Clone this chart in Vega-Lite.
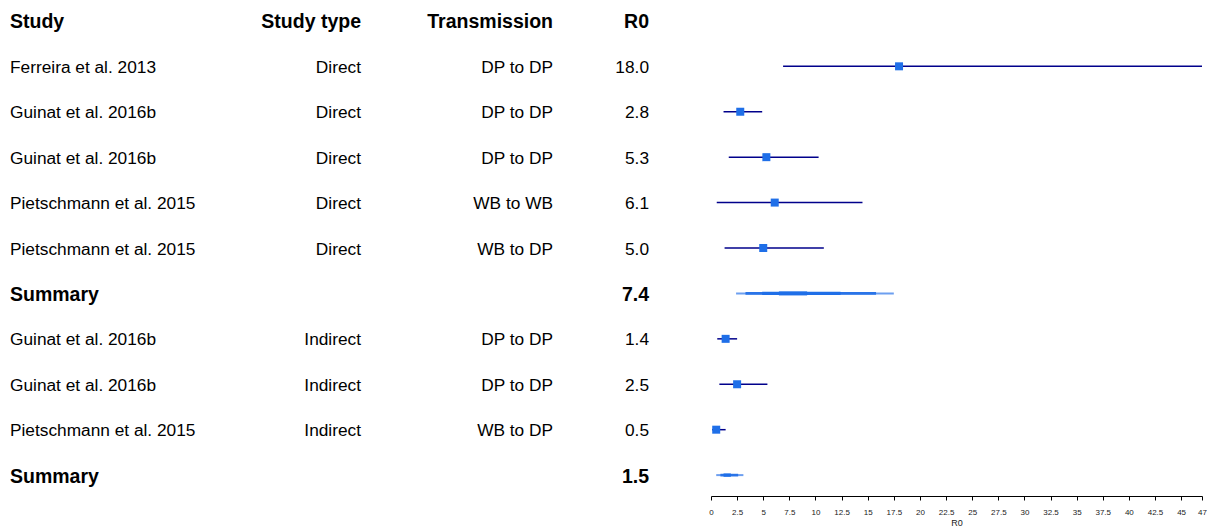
{
  "$schema": "https://vega.github.io/schema/vega-lite/v6.json",
  "padding": {"left": 10, "top": 0, "right": 0, "bottom": 0},
  "autosize": {"type": "pad"},
  "background": "white",
  "spacing": 0,
  "bounds": "flush",
  "config": {"view": {"stroke": null}, "font": "Liberation Sans", "concat": {"spacing": 0}},
  "datasets": {
    "table": [
      {"row": 0, "study": "Study", "stype": "Study type", "trans": "Transmission", "r0": "R0", "bold": true},
      {"row": 1, "study": "Ferreira et al. 2013", "stype": "Direct", "trans": "DP to DP", "r0": "18.0", "bold": false},
      {"row": 2, "study": "Guinat et al. 2016b", "stype": "Direct", "trans": "DP to DP", "r0": "2.8", "bold": false},
      {"row": 3, "study": "Guinat et al. 2016b", "stype": "Direct", "trans": "DP to DP", "r0": "5.3", "bold": false},
      {"row": 4, "study": "Pietschmann et al. 2015", "stype": "Direct", "trans": "WB to WB", "r0": "6.1", "bold": false},
      {"row": 5, "study": "Pietschmann et al. 2015", "stype": "Direct", "trans": "WB to DP", "r0": "5.0", "bold": false},
      {"row": 6, "study": "Summary", "stype": "", "trans": "", "r0": "7.4", "bold": true},
      {"row": 7, "study": "Guinat et al. 2016b", "stype": "Indirect", "trans": "DP to DP", "r0": "1.4", "bold": false},
      {"row": 8, "study": "Guinat et al. 2016b", "stype": "Indirect", "trans": "DP to DP", "r0": "2.5", "bold": false},
      {"row": 9, "study": "Pietschmann et al. 2015", "stype": "Indirect", "trans": "WB to DP", "r0": "0.5", "bold": false},
      {"row": 10, "study": "Summary", "stype": "", "trans": "", "r0": "1.5", "bold": true}
    ],
    "studies": [
      {"row": 1, "est": 18.0, "lo": 6.9, "hi": 47},
      {"row": 2, "est": 2.8, "lo": 1.2, "hi": 4.9},
      {"row": 3, "est": 5.3, "lo": 1.7, "hi": 10.3},
      {"row": 4, "est": 6.1, "lo": 0.55, "hi": 14.5},
      {"row": 5, "est": 5.0, "lo": 1.3, "hi": 10.8},
      {"row": 7, "est": 1.4, "lo": 0.6, "hi": 2.5},
      {"row": 8, "est": 2.5, "lo": 0.8, "hi": 5.4},
      {"row": 9, "est": 0.5, "lo": 0.1, "hi": 1.4}
    ],
    "summ": [
      {"row": 6, "level": 1, "lo": 2.4, "hi": 17.5},
      {"row": 6, "level": 2, "lo": 3.3, "hi": 15.8},
      {"row": 6, "level": 3, "lo": 4.9, "hi": 12.4},
      {"row": 6, "level": 4, "lo": 6.5, "hi": 9.2},
      {"row": 10, "level": 1, "lo": 0.5, "hi": 3.1},
      {"row": 10, "level": 2, "lo": 0.9, "hi": 2.6},
      {"row": 10, "level": 3, "lo": 1.2, "hi": 1.9}
    ]
  },
  "hconcat": [
    {
      "width": 240, "height": 496,
      "data": {"name": "table"},
      "layer": [
        {"transform": [{"filter": "!datum.bold"}],
         "mark": {"type": "text", "align": "left", "baseline": "middle", "fontSize": 17.3, "color": "black", "dy": 1.5},
         "encoding": {"y": {"field": "row", "type": "ordinal", "scale": {"type": "point", "domain": [0,1,2,3,4,5,6,7,8,9,10], "padding": 0.46}, "axis": null},
                      "x": {"value": 0}, "text": {"field": "study"}}},
        {"transform": [{"filter": "datum.bold"}],
         "mark": {"type": "text", "align": "left", "baseline": "middle", "fontSize": 19.5, "fontWeight": "bold", "color": "black", "dy": 1.5},
         "encoding": {"y": {"field": "row", "type": "ordinal", "scale": {"type": "point", "domain": [0,1,2,3,4,5,6,7,8,9,10], "padding": 0.46}, "axis": null},
                      "x": {"value": 0}, "text": {"field": "study"}}}
      ]
    },
    {
      "width": 111, "height": 496,
      "data": {"name": "table"},
      "layer": [
        {"transform": [{"filter": "!datum.bold"}],
         "mark": {"type": "text", "align": "right", "baseline": "middle", "fontSize": 17.3, "color": "black", "dy": 1.5},
         "encoding": {"y": {"field": "row", "type": "ordinal", "scale": {"type": "point", "domain": [0,1,2,3,4,5,6,7,8,9,10], "padding": 0.46}, "axis": null},
                      "x": {"value": "width"}, "text": {"field": "stype"}}},
        {"transform": [{"filter": "datum.bold"}],
         "mark": {"type": "text", "align": "right", "baseline": "middle", "fontSize": 19.5, "fontWeight": "bold", "color": "black", "dy": 1.5},
         "encoding": {"y": {"field": "row", "type": "ordinal", "scale": {"type": "point", "domain": [0,1,2,3,4,5,6,7,8,9,10], "padding": 0.46}, "axis": null},
                      "x": {"value": "width"}, "text": {"field": "stype"}}}
      ]
    },
    {
      "width": 192, "height": 496,
      "data": {"name": "table"},
      "layer": [
        {"transform": [{"filter": "!datum.bold"}],
         "mark": {"type": "text", "align": "right", "baseline": "middle", "fontSize": 17.3, "color": "black", "dy": 1.5},
         "encoding": {"y": {"field": "row", "type": "ordinal", "scale": {"type": "point", "domain": [0,1,2,3,4,5,6,7,8,9,10], "padding": 0.46}, "axis": null},
                      "x": {"value": "width"}, "text": {"field": "trans"}}},
        {"transform": [{"filter": "datum.bold"}],
         "mark": {"type": "text", "align": "right", "baseline": "middle", "fontSize": 19.5, "fontWeight": "bold", "color": "black", "dy": 1.5},
         "encoding": {"y": {"field": "row", "type": "ordinal", "scale": {"type": "point", "domain": [0,1,2,3,4,5,6,7,8,9,10], "padding": 0.46}, "axis": null},
                      "x": {"value": "width"}, "text": {"field": "trans"}}}
      ]
    },
    {
      "width": 158, "height": 496,
      "data": {"name": "table"},
      "layer": [
        {"transform": [{"filter": "!datum.bold"}],
         "mark": {"type": "text", "align": "right", "baseline": "middle", "fontSize": 17.3, "color": "black", "dx": -62, "dy": 1.5},
         "encoding": {"y": {"field": "row", "type": "ordinal", "scale": {"type": "point", "domain": [0,1,2,3,4,5,6,7,8,9,10], "padding": 0.46}, "axis": null},
                      "x": {"value": "width"}, "text": {"field": "r0"}}},
        {"transform": [{"filter": "datum.bold"}],
         "mark": {"type": "text", "align": "right", "baseline": "middle", "fontSize": 19.5, "fontWeight": "bold", "color": "black", "dx": -62, "dy": 1.5},
         "encoding": {"y": {"field": "row", "type": "ordinal", "scale": {"type": "point", "domain": [0,1,2,3,4,5,6,7,8,9,10], "padding": 0.46}, "axis": null},
                      "x": {"value": "width"}, "text": {"field": "r0"}}}
      ]
    },
    {
      "width": 491, "height": 496,
      "encoding": {
        "y": {"field": "row", "type": "ordinal", "scale": {"type": "point", "domain": [0,1,2,3,4,5,6,7,8,9,10], "padding": 0.46}, "axis": null},
        "x": {"field": "lo", "type": "quantitative", "scale": {"domain": [0, 47], "nice": false},
              "axis": {"title": "R0", "values": [0,2.5,5,7.5,10,12.5,15,17.5,20,22.5,25,27.5,30,32.5,35,37.5,40,42.5,45,47],
                       "labelExpr": "'' + datum.value", "grid": false, "tickSize": 4, "tickColor": "black", "domainColor": "black",
                       "labelFontSize": 8, "labelColor": "#222", "labelPadding": 8, "titleFontSize": 9, "titleFontWeight": "normal",
                       "titleColor": "#222", "titlePadding": 2, "labelFlush": false}}
      },
      "layer": [
        {"data": {"name": "studies"},
         "mark": {"type": "rule", "color": "#00008B", "strokeWidth": 1.5},
         "encoding": {"x2": {"field": "hi"}}},
        {"data": {"name": "summ"},
         "mark": {"type": "rule"},
         "encoding": {"x2": {"field": "hi"},
                      "strokeWidth": {"field": "level", "type": "ordinal", "scale": {"domain": [1,2,3,4], "range": [2,4,6,8]}, "legend": null},
                      "color": {"field": "level", "type": "ordinal", "scale": {"domain": [1,2,3,4], "range": ["#6d9ff0", "#2a74e8", "#1f6fe8", "#1f6fe8"]}, "legend": null}}},
        {"data": {"name": "studies"},
         "mark": {"type": "point", "shape": "square", "filled": true, "size": 64, "color": "#1f6fe8", "opacity": 1},
         "encoding": {"x": {"field": "est", "type": "quantitative"}}}
      ]
    }
  ]
}
